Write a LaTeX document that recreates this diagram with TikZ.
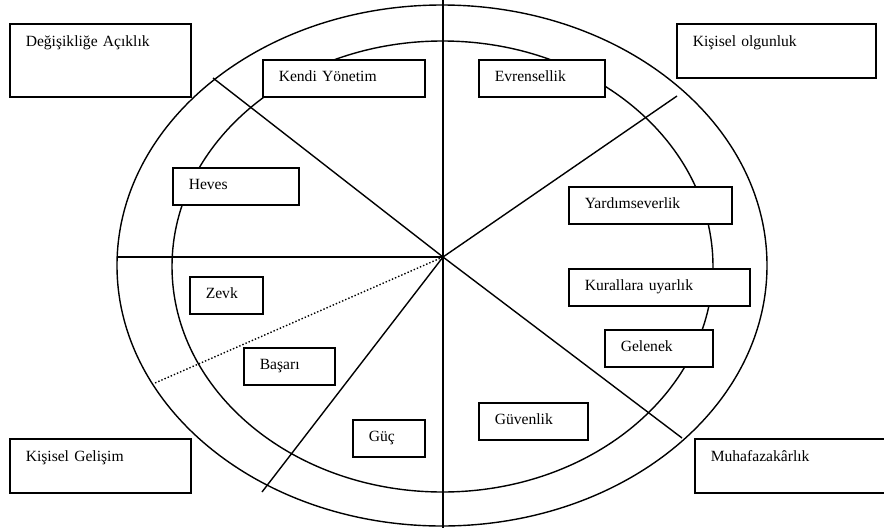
\documentclass[tikz,border=0pt]{standalone}
\usepackage{fontspec}
\setmainfont{Liberation Serif}

\begin{document}
\begin{tikzpicture}[
    x=1pt, y=-1pt,
    every node/.style={font=\fontsize{15.6}{19}\selectfont},
    ring/.style={line width=1.4pt},
    spoke/.style={line width=1.4pt},
    kutu/.style={draw, fill=white, line width=1.5pt, anchor=north west, align=left, inner xsep=16pt, inner ysep=0pt, minimum height=37pt, text height=11pt, text depth=4pt, text width=#1},
    buyuk/.style={draw, fill=white, line width=1.5pt, anchor=north west, align=left, inner xsep=16pt, inner ysep=0pt, text height=23pt, text depth=31pt, text width=#1}
]
\useasboundingbox (0,0) rectangle (884,528);
\clip (0,0) rectangle (884,528);
% two rings
\draw[ring] (442,265.5) ellipse [x radius=325pt, y radius=260.5pt];
\draw[ring] (442.5,266.5) ellipse [x radius=270.5pt, y radius=225.5pt];
% spokes
\coordinate (merkez) at (443,257);
\coordinate (ust) at (443,0);
\coordinate (alt) at (443,528);
\coordinate (sol) at (117,257);
\coordinate (solust) at (213,78);
\coordinate (sagust) at (677,96);
\coordinate (sagalt) at (682,438);
\coordinate (solalt) at (262,492);
\coordinate (nokta) at (155,383);
\draw[spoke] (ust) -- (alt);
\draw[spoke] (merkez) -- (sol);
\draw[spoke] (merkez) -- (solust);
\draw[spoke] (merkez) -- (sagust);
\draw[spoke] (merkez) -- (sagalt);
\draw[spoke] (merkez) -- (solalt);
\draw[spoke, dotted] (merkez) -- (nokta);
% values
\node[kutu=130pt] (kendi) at (262,59) {Kendi Yönetim};
\node[kutu=94pt] (evren) at (478,59) {Evrensellik};
\node[kutu=94pt] (heves) at (172,167) {Heves};
\node[kutu=41pt] (zevk) at (189,276) {Zevk};
\node[kutu=59pt] (basari) at (243,347) {Başarı};
\node[kutu=40pt] (guc) at (352,419) {Güç};
\node[kutu=77pt] (guven) at (478,402) {Güvenlik};
\node[kutu=131pt] (yardim) at (568,186) {Yardımseverlik};
\node[kutu=149pt] (kural) at (568,268) {Kurallara uyarlık};
\node[kutu=76pt] (gelenek) at (604,329) {Gelenek};
% higher order groups
\node[buyuk=149pt, text depth=50pt] (degisim) at (9,23) {Değişikliğe Açıklık};
\node[buyuk=167pt] (olgun) at (676,23) {Kişisel olgunluk};
\node[buyuk=149pt] (gelisim) at (9,438) {Kişisel Gelişim};
\node[buyuk=174pt] (muhafaza) at (694,438) {Muhafazakârlık};
\end{tikzpicture}
\end{document}
